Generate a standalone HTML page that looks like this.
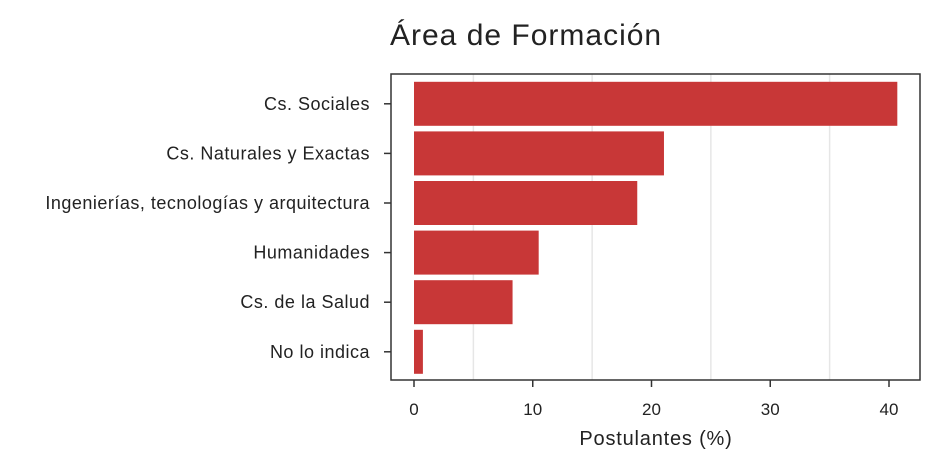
<!DOCTYPE html>
<html><head><meta charset="utf-8"><style>
html,body{margin:0;padding:0;background:#fff;width:944px;height:472px;overflow:hidden}
text{font-family:"Liberation Sans",sans-serif;fill:#222}
</style></head><body>
<svg id="chart" width="944" height="472" xmlns="http://www.w3.org/2000/svg">
<text x="390" y="45" font-size="30" letter-spacing="1" fill="#000">Área de Formación</text>
<g id="grid"></g><g id="bars"></g>
<rect x="391" y="74" width="529" height="306" fill="none" stroke="#333" stroke-width="1.5"/>
<g id="axes"></g>
<text x="656" y="445" font-size="20" letter-spacing="0.8" text-anchor="middle">Postulantes (%)</text>
</svg>
<script>
const categories=["Cs. Sociales","Cs. Naturales y Exactas","Ingenierías, tecnologías y arquitectura","Humanidades","Cs. de la Salud","No lo indica"];
const values=[40.7,21.05,18.8,10.5,8.3,0.75];
const xTicks=[0,10,20,30,40];
const minorGrid=[5,15,25,35];
const NS="http://www.w3.org/2000/svg";
const x=v=>414+v*11.875;
const band=49.6, top0=79;
const yc=i=>top0+band*i+band/2;
function mk(t,a,p){const e=document.createElementNS(NS,t);for(const k in a)e.setAttribute(k,a[k]);p.appendChild(e);return e;}
const grid=document.getElementById('grid'),bars=document.getElementById('bars'),axes=document.getElementById('axes');
minorGrid.forEach(v=>{const l=mk('line',{x1:x(v),x2:x(v),y1:74,y2:380,stroke:'#e6e6e6','stroke-width':1.5},grid);

});
values.forEach((v,i)=>{const r=mk('rect',{x:x(0),y:yc(i)-22,width:x(v)-x(0),height:44,fill:'#c83737'},bars);

});
categories.forEach((c,i)=>{mk('line',{x1:384,x2:391,y1:yc(i),y2:yc(i),stroke:'#333','stroke-width':1.5},axes);
const t=mk('text',{x:370,y:yc(i)+6,'font-size':18,'letter-spacing':0.5,'text-anchor':'end'},axes);t.textContent=c;

});
xTicks.forEach(v=>{mk('line',{x1:x(v),x2:x(v),y1:380,y2:387,stroke:'#333','stroke-width':1.5},axes);
const t=mk('text',{x:x(v),y:415,'font-size':17,'text-anchor':'middle'},axes);t.textContent=v;

});
</script>
</body></html>
